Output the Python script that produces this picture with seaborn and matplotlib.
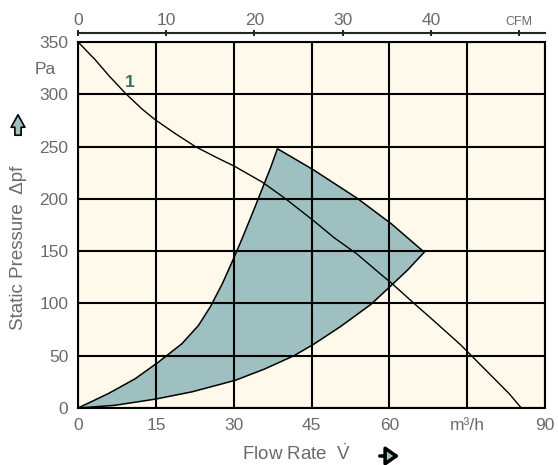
import numpy as np
import pandas as pd
import matplotlib
matplotlib.use("Agg")
import matplotlib.pyplot as plt
import seaborn as sns

# ---- data ----
fan_flow = [0, 3.3, 5.9, 9.1, 12.3, 14.9, 18.7, 22.6, 26.5, 30.2, 35.5, 40, 45.4,
            49.3, 53.8, 58.3, 60.6, 64.4, 68.3, 73.8, 79.6, 83.1, 85.4]
fan_pres = [350, 333, 318, 301, 286, 275.5, 262.5, 250, 240, 231, 216, 200, 179,
            163, 147, 128, 118.5, 101.5, 84.5, 60, 31, 13.5, 0]

region_left_x = [0, 5.9, 11, 15.5, 20, 23.2, 25.5, 27.8, 29.7, 31.6, 33.9, 35.5, 37.1, 38.4]
region_left_y = [0, 14, 28, 44, 61.5, 79, 97, 119, 140, 162, 190, 210, 230, 248]
region_top_x = [45.4, 53.8, 60.4, 66.7]
region_top_y = [227.6, 200.5, 176, 149]
region_lower_x = [63.5, 60.3, 56.4, 50.6, 45.4, 41.6, 35.8, 30.3, 22, 14.9, 7, 0]
region_lower_y = [132, 117, 99, 78, 61, 50, 37, 26.5, 15.5, 8.5, 2.5, 0]

x_ticks = [0, 15, 30, 45, 60, 75, 90]
x_labels = ["0", "15", "30", "45", "60", "m\u00b3/h", "90"]
y_ticks = [0, 50, 100, 150, 200, 250, 300, 350]
y_labels = ["0", "50", "100", "150", "200", "250", "300", "350"]
cfm_ticks = [0, 10, 20, 30, 40, 50]
cfm_labels = ["0", "10", "20", "30", "40", "CFM"]

BG = "#fff9ec"
FILL = "#9ec0c0"
TXT = "#6a6a6a"

sns.set_style("white")
plt.rcParams["font.family"] = ["Liberation Sans", "DejaVu Sans"]
plt.rcParams["mathtext.fontset"] = "custom"
plt.rcParams["mathtext.rm"] = "Liberation Sans"
plt.rcParams["mathtext.it"] = "Liberation Sans"

fig = plt.figure(figsize=(5.58, 4.65), dpi=100)
ax = fig.add_axes([0.140, 0.1226, 0.837, 0.787])
ax.set_facecolor(BG)

poly_x = region_left_x + region_top_x + region_lower_x
poly_y = region_left_y + region_top_y + region_lower_y
ax.fill(poly_x, poly_y, facecolor=FILL, edgecolor="black", linewidth=1.1, zorder=2)

df = pd.DataFrame({"flow": fan_flow, "pres": fan_pres})
sns.lineplot(data=df, x="flow", y="pres", color="black", linewidth=1.0, ax=ax, zorder=4)

ax.set_xlim(0, 90)
ax.set_ylim(0, 350)
ax.set_xticks(x_ticks)
ax.set_xticklabels(x_labels)
ax.set_yticks(y_ticks)
ax.set_yticklabels(y_labels)
ax.grid(True, color="black", linewidth=1.5, zorder=3)
ax.set_axisbelow(False)
for s in ax.spines.values():
    s.set_color("black")
    s.set_linewidth(1.5)
    s.set_zorder(5)
ax.tick_params(axis="both", direction="out", length=4, width=1.2, color="black",
               labelcolor=TXT, labelsize=12.5, pad=3)
ax.set_xlabel("")
ax.set_ylabel("")

# top CFM axis
sec = ax.secondary_xaxis("top", functions=(lambda v: v / 1.699, lambda v: v * 1.699))
sec.set_xticks(cfm_ticks)
sec.set_xticklabels(cfm_labels)
sec.spines["top"].set_position(("outward", 6.5))
sec.spines["top"].set_linewidth(1.5)
sec.tick_params(direction="inout", length=5, width=1.2, color="black",
                labelcolor=TXT, labelsize=12.5, pad=1)
for lab in sec.get_xticklabels():
    if lab.get_text() == "CFM":
        lab.set_fontsize(9)

# curve label
ax.text(10, 311, "1", color="#2a7262", fontsize=12.5, fontweight="bold",
        ha="center", va="center", zorder=6)
# unit Pa
fig.text(45 / 558, 1 - 70 / 465, "Pa", color=TXT, fontsize=12.5, ha="center", va="center")

# axis titles
fig.text(297 / 558, 1 - 454 / 465, "Flow Rate  $\\dot{V}$", color=TXT, fontsize=13.5,
         ha="center", va="center")
fig.text(19 / 558, 1 - 248 / 465, "Static Pressure  \u0394pf", color=TXT, fontsize=13.5,
         ha="center", va="center", rotation=90)

# arrows
fig.patches.append(matplotlib.patches.FancyArrowPatch(
    (18 / 558, 1 - 138 / 465), (18 / 558, 1 - 112 / 465), transform=fig.transFigure,
    arrowstyle="simple,head_width=0.55,head_length=0.5,tail_width=0.25",
    mutation_scale=18, facecolor=FILL, edgecolor="black", linewidth=1.2))
fig.patches.append(matplotlib.patches.FancyArrowPatch(
    (377 / 558, 1 - 456 / 465), (402 / 558, 1 - 456 / 465), transform=fig.transFigure,
    arrowstyle="-|>,head_width=0.35,head_length=0.5",
    mutation_scale=16, facecolor=FILL, edgecolor="black", linewidth=2.5))

fig.savefig("out.png", dpi=100, facecolor="white")
